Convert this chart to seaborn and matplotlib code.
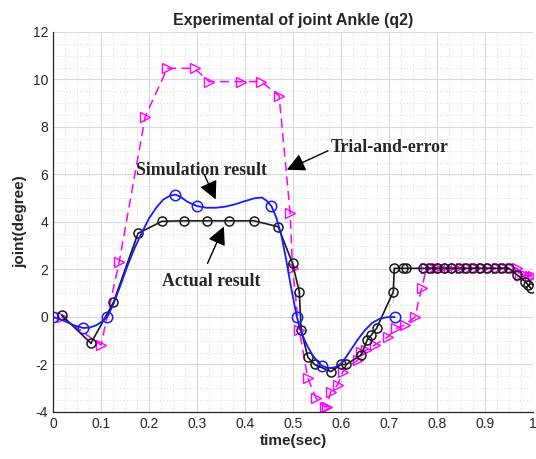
import numpy as np
import pandas as pd
import matplotlib
matplotlib.use("Agg")
import matplotlib.pyplot as plt
import seaborn as sns

# simulation result (smooth curve)
sim_t = [0, 0.015, 0.03, 0.045, 0.063, 0.075, 0.09, 0.1, 0.113, 0.125, 0.14,
         0.155, 0.17, 0.185, 0.2, 0.215, 0.23, 0.245, 0.255, 0.265, 0.28, 0.3,
         0.32, 0.34, 0.36, 0.38, 0.4, 0.42, 0.435, 0.445, 0.455, 0.465, 0.475,
         0.485, 0.495, 0.508, 0.516, 0.524, 0.532, 0.54, 0.55, 0.56, 0.57,
         0.58, 0.59, 0.6, 0.61, 0.62, 0.635, 0.65, 0.665, 0.68, 0.695, 0.712]
sim_q = [0, -0.1, -0.22, -0.36, -0.46, -0.45, -0.35, -0.22, 0, 0.5, 1.3,
         2.15, 2.9, 3.55, 4.15, 4.6, 4.95, 5.12, 5.15, 5.07, 4.85, 4.67,
         4.6, 4.6, 4.65, 4.75, 4.88, 5.0, 5.03, 4.9, 4.67, 4.2, 3.5,
         2.5, 1.35, 0, -0.55, -0.97, -1.3, -1.58, -1.85, -2.05, -2.13,
         -2.15, -2.1, -1.95, -1.7, -1.4, -0.95, -0.55, -0.25, -0.08, -0.01, 0]
sim_mark_t = [0, 0.063, 0.113, 0.255, 0.3, 0.455, 0.508, 0.56, 0.712]
sim_mark_q = [0, -0.46, 0, 5.15, 4.67, 4.67, 0, -2.05, 0]

# actual result
act_t = [0.018, 0.079, 0.126, 0.177, 0.227, 0.273, 0.321, 0.367, 0.419, 0.469,
         0.499, 0.513, 0.513, 0.517, 0.531, 0.545, 0.579, 0.6, 0.611, 0.642,
         0.642, 0.655, 0.663, 0.674, 0.709, 0.709, 0.711, 0.73, 0.736, 0.771,
         0.785, 0.8, 0.815, 0.83, 0.845, 0.86, 0.875, 0.89, 0.905, 0.92,
         0.935, 0.95, 0.967, 0.967, 0.984, 0.99, 0.995]
act_q = [0.08, -1.11, 0.62, 3.52, 4.03, 4.05, 4.05, 4.05, 4.05, 3.8,
         2.26, 1.49, 0.65, -0.55, -1.7, -2.0, -2.3, -2.0, -2.0, -2.0,
         -1.2, -0.95, -0.76, -0.48, 0.65, 1.49, 2.05, 2.05, 2.05, 2.05,
         2.05, 2.05, 2.05, 2.05, 2.05, 2.05, 2.05, 2.05, 2.05, 2.05,
         2.05, 2.05, 2.05, 1.49, 1.49, 1.35, 1.21]

# trial-and-error
tri_t = [0.018, 0.1, 0.138, 0.192, 0.238, 0.295, 0.325, 0.391, 0.434, 0.471,
         0.494, 0.499, 0.513, 0.531, 0.548, 0.566, 0.57, 0.579, 0.593, 0.604,
         0.635, 0.642, 0.653, 0.67, 0.698, 0.715, 0.733, 0.754, 0.768, 0.778,
         0.79, 0.8, 0.81, 0.825, 0.84, 0.85, 0.865, 0.88, 0.895, 0.91, 0.925,
         0.94, 0.955, 0.967, 0.972, 0.984, 0.993, 1.0]
tri_q = [0, -1.18, 2.33, 8.43, 10.47, 10.47, 9.91, 9.91, 9.91, 9.31,
         4.39, 2.05, -0.55, -2.58, -3.42, -3.78, -3.78, -3.14, -2.86, -2.3,
         -1.81, -1.46, -1.39, -1.18, -0.83, -0.48, -0.34, 0, 1.21, 2.05,
         2.05, 2.05, 2.05, 2.05, 2.05, 2.05, 2.05, 2.05, 2.05, 2.05, 2.05,
         2.05, 2.05, 2.05, 1.77, 1.77, 1.72, 1.72]

sns.set_style("white")
plt.rcParams['font.family'] = ['Liberation Sans', 'DejaVu Sans']
plt.rcParams['axes.unicode_minus'] = False

fig = plt.figure(figsize=(5.36, 4.59), dpi=100)
ax = fig.add_axes([0.0989, 0.1024, 0.8955, 0.8279])

sim = pd.DataFrame({"t": sim_t, "q": sim_q})
sim_m = pd.DataFrame({"t": sim_mark_t, "q": sim_mark_q})
act = pd.DataFrame({"t": act_t, "q": act_q})
tri = pd.DataFrame({"t": tri_t, "q": tri_q})

sns.lineplot(data=tri, x="t", y="q", sort=False, ax=ax, color="#ff00ff",
             linestyle=(0, (6, 3.5)), linewidth=1.1, marker=">", markersize=6.5,
             markerfacecolor="none", markeredgecolor="#ff00ff", markeredgewidth=1.0)
sns.lineplot(data=act, x="t", y="q", sort=False, ax=ax, color="#1a1a1a",
             linewidth=1.2, marker="o", markersize=6.5, markerfacecolor="none",
             markeredgecolor="#1a1a1a", markeredgewidth=1.1)
sns.lineplot(data=sim, x="t", y="q", sort=False, ax=ax, color="#1a1aff",
             linewidth=1.3)
ax.plot(sim_m["t"], sim_m["q"], linestyle="none", marker="o", markersize=7.5,
        markerfacecolor="none", markeredgecolor="#1a1aff", markeredgewidth=1.1)

ax.set_xlim(0, 1)
ax.set_ylim(-4, 12)
ax.set_xticks(np.arange(0, 1.01, 0.1))
ax.set_xticklabels(["0", "0.1", "0.2", "0.3", "0.4", "0.5", "0.6", "0.7", "0.8", "0.9", "1"])
ax.set_yticks(np.arange(-4, 12.1, 2))
ax.set_xticks(np.arange(0, 1.001, 0.025), minor=True)
ax.set_yticks(np.arange(-4, 12.01, 0.5), minor=True)
ax.grid(which="major", color="#d9d9d9", linewidth=0.8)
ax.grid(which="minor", color="#d9d9d9", linewidth=0.6, linestyle=(0, (1.5, 2.5)))
ax.set_axisbelow(True)
ax.tick_params(which="major", direction="in", length=4, width=0.8, labelsize=10,
               labelcolor="#262626", color="#262626")
ax.tick_params(which="minor", length=0)
for s in ["top", "right"]:
    ax.spines[s].set_visible(False)
for s in ["left", "bottom"]:
    ax.spines[s].set_color("#262626")
    ax.spines[s].set_linewidth(0.9)

ax.set_title("Experimental of joint Ankle (q2)", fontsize=11.5, fontweight="bold", pad=5)
ax.set_xlabel("time(sec)", fontsize=11, fontweight="bold", labelpad=2)
ax.set_ylabel("joint(degree)", fontsize=11, fontweight="bold", labelpad=4)

serif = dict(family="Liberation Serif", fontsize=12.8, fontweight="bold")
arrow = dict(arrowstyle="-|>,head_length=1.1,head_width=0.55", color="black",
             lw=1.0, shrinkA=0, shrinkB=0)
ax.annotate("Simulation result", xy=(0.339, 4.95), xytext=(0.31, 6.15),
            ha="center", va="center", **serif)
ax.annotate("", xy=(0.339, 4.95), xytext=(0.315, 6.0), arrowprops=arrow)
ax.annotate("Actual result", xy=(0.356, 3.81), xytext=(0.33, 1.5),
            ha="center", va="center", **serif)
ax.annotate("", xy=(0.356, 3.81), xytext=(0.322, 2.26), arrowprops=arrow)
ax.annotate("Trial-and-error", xy=(0.487, 6.2), xytext=(0.578, 7.15),
            ha="left", va="center", **serif)
ax.annotate("", xy=(0.487, 6.2), xytext=(0.573, 7.0), arrowprops=arrow)

fig.savefig("out.png", dpi=100)
